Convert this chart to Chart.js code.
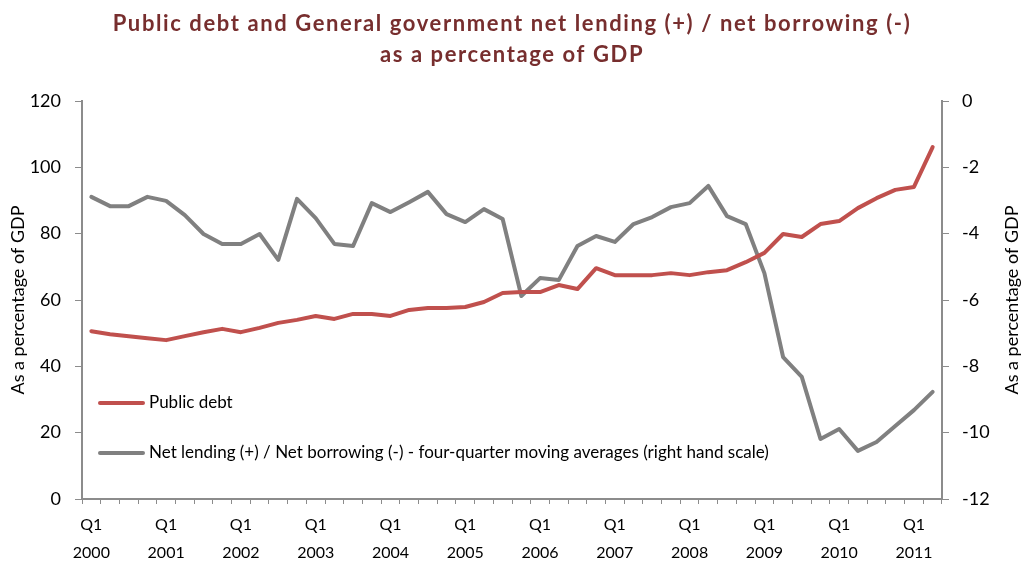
<!DOCTYPE html>
<html>
<head>
<meta charset="utf-8">
<script src="https://cdn.jsdelivr.net/npm/chart.js@4/dist/chart.umd.min.js"></script>
<style>
  html, body { margin: 0; padding: 0; background: #fff; }
  #debtChart { display: block; }
</style>
</head>
<body>
<canvas id="debtChart" width="1022" height="569"></canvas>
<script>
// ======================================================
// Data
// ======================================================

const years = [2000, 2001, 2002, 2003, 2004, 2005, 2006, 2007, 2008, 2009, 2010, 2011];

const quarters = ["Q1", "Q2", "Q3", "Q4"];

// public debt, % of GDP (left scale)
const publicDebt = [
    50.6, 49.7, 49.1, 48.5, 47.9, 49.1, 50.3, 51.3, 50.3, 51.6,
    53.1, 54.0, 55.2, 54.3, 55.8, 55.8, 55.2, 57.0, 57.6, 57.6,
    57.9, 59.4, 62.1, 62.4, 62.4, 64.5, 63.3, 69.6, 67.5, 67.5,
    67.5, 68.1, 67.5, 68.4, 69.0, 71.4, 74.2, 79.9, 79.0, 82.9,
    83.8, 87.7, 90.7, 93.2, 94.1, 106.1
];

// net lending / borrowing, four-quarter moving average (right scale)
const netLending = [
    -2.89, -3.17, -3.17, -2.89, -3.01, -3.44, -4.01, -4.31, -4.31, -4.01,
    -4.79, -2.95, -3.53, -4.31, -4.37, -3.08, -3.35, -3.05, -2.74, -3.41,
    -3.65, -3.26, -3.56, -5.88, -5.34, -5.40, -4.37, -4.07, -4.25, -3.71,
    -3.50, -3.20, -3.08, -2.56, -3.47, -3.71, -5.19, -7.72, -8.32, -10.19,
    -9.89, -10.55, -10.28, -9.80, -9.32, -8.77
];

const leftTicks = [0, 20, 40, 60, 80, 100, 120];

const rightTicks = [-12, -10, -8, -6, -4, -2, 0];

const titleLines = [
    "Public debt and General government net lending (+) / net borrowing (-)",
    "as a percentage of GDP"
];

const seriesNames = [
    "Public debt",
    "Net lending (+) / Net borrowing (-) - four-quarter moving averages (right hand scale)"
];

const axisTitle = "As a percentage of GDP";

// quarter labels, 2000 Q1 .. 2011 Q2
const labels = [];
years.forEach(y => quarters.forEach(q => labels.push([q, String(y)])));
labels.length = publicDebt.length;

// ======================================================
// Styles
// ======================================================

const RED = "#c0504d";
const GREY = "#808080";
const AXIS = "#8c8c8c";
const FONT = "Lato, 'Open Sans', sans-serif";

// ======================================================
// Title, axis titles and legend
// ======================================================

const decorations = {
    id: "decorations",
    afterDatasetsDraw(chart) {
        const ctx = chart.ctx;
        const area = chart.chartArea;
        ctx.save();

        // title
        ctx.fillStyle = "#772e2e";
        ctx.font = "bold 22px " + FONT;
        ctx.letterSpacing = "1.6px";
        ctx.textAlign = "center";
        ctx.textBaseline = "middle";
        ctx.fillText(titleLines[0], 512, 24);
        ctx.fillText(titleLines[1], 512, 55);
        ctx.letterSpacing = "0px";

        // axis titles, both read bottom to top
        ctx.fillStyle = "#000";
        ctx.font = "18px " + FONT;
        const midY = (area.top + area.bottom) / 2;
        [18, 1012].forEach(x => {
            ctx.save();
            ctx.translate(x, midY);
            ctx.rotate(-Math.PI / 2);
            ctx.fillText(axisTitle, 0, 0);
            ctx.restore();
        });

        // legend inside the plot
        ctx.font = "17px " + FONT;
        ctx.textAlign = "left";
        ctx.lineWidth = 4;
        ctx.lineCap = "round";
        [[RED, 403], [GREY, 453]].forEach(([color, y], i) => {
            ctx.strokeStyle = color;
            ctx.beginPath();
            ctx.moveTo(100, y);
            ctx.lineTo(143, y);
            ctx.stroke();
            ctx.fillStyle = "#000";
            ctx.fillText(seriesNames[i], 149, y);
        });

        ctx.restore();
    }
};

// ======================================================
// Chart
// ======================================================

new Chart(document.querySelector("#debtChart"), {

    type: "line",

    data: {

        labels: labels,

        datasets: [
            {
                label: seriesNames[0],
                data: publicDebt,
                yAxisID: "y",
                borderColor: RED,
                borderWidth: 4,
                pointRadius: 0,
                tension: 0,
                borderCapStyle: "round",
                borderJoinStyle: "round"
            },
            {
                label: seriesNames[1],
                data: netLending,
                yAxisID: "y2",
                borderColor: GREY,
                borderWidth: 4,
                pointRadius: 0,
                tension: 0,
                borderCapStyle: "round",
                borderJoinStyle: "round"
            }
        ]

    },

    options: {

        responsive: false,

        animation: false,

        layout: {
            padding: { top: 101, bottom: 0, left: 0, right: 0 }
        },

        plugins: {
            legend: { display: false },
            title: { display: false },
            tooltip: { enabled: false }
        },

        scales: {

            x: {
                offset: true,
                afterFit(scale) { scale.height = 70; },
                grid: {
                    offset: true,
                    drawOnChartArea: false,
                    color: AXIS,
                    tickLength: 5
                },
                border: { color: AXIS, width: 2 },
                ticks: {
                    autoSkip: false,
                    maxRotation: 0,
                    padding: 6,
                    color: "#000",
                    font: { family: FONT, size: 16, lineHeight: 1.8 },
                    callback(value, index) {
                        return index % 4 === 0 ? labels[index] : "";
                    }
                }
            },

            y: {
                position: "left",
                min: leftTicks[0],
                max: leftTicks[leftTicks.length - 1],
                afterFit(scale) { scale.width = 82; },
                afterBuildTicks(scale) { scale.ticks = leftTicks.map(v => ({ value: v })); },
                grid: { drawOnChartArea: false, color: AXIS, tickLength: 7 },
                border: { color: AXIS, width: 2 },
                ticks: {
                    padding: 14,
                    color: "#000",
                    font: { family: FONT, size: 18 }
                }
            },

            y2: {
                position: "right",
                min: rightTicks[0],
                max: rightTicks[rightTicks.length - 1],
                afterFit(scale) { scale.width = 80; },
                afterBuildTicks(scale) { scale.ticks = rightTicks.map(v => ({ value: v })); },
                grid: { drawOnChartArea: false, color: AXIS, tickLength: 7 },
                border: { color: AXIS, width: 2 },
                ticks: {
                    padding: 13,
                    color: "#000",
                    font: { family: FONT, size: 18 }
                }
            }

        }

    },

    plugins: [decorations]

});
</script>
</body>
</html>
